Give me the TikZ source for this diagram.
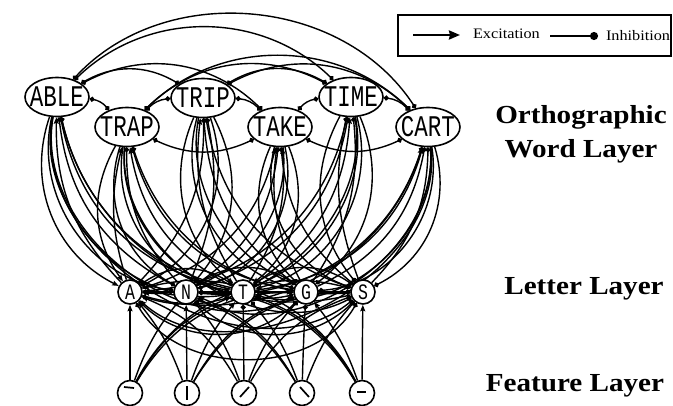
\documentclass[tikz,border=0pt]{standalone}
\usepackage{fontspec}
\setmainfont{Liberation Serif}
\newfontfamily\layerfont[FakeStretch=1.12]{Liberation Serif}
\newfontfamily\unitfont[FakeStretch=0.75]{Liberation Mono}
\usetikzlibrary{arrows.meta,
                shapes.geometric,
                backgrounds}

\begin{document}
\begin{tikzpicture}[
        x=1pt, y=1pt,
        line width=1.4pt,
        word/.style={draw, ellipse, fill=white, line width=1.6pt, minimum width=64pt, minimum height=39pt, inner xsep=-10pt, inner ysep=0pt, font=\unitfont\fontsize{30}{30}\selectfont},
        letter/.style={draw, circle, fill=white, line width=1.6pt, minimum size=24pt, inner sep=0pt, font=\unitfont\fontsize{22}{22}\selectfont},
        feature/.style={draw, circle, fill=white, line width=1.6pt, minimum size=25pt, inner sep=0pt},
        excite/.style={line width=1.4pt, -{Stealth[length=6.5pt, width=5pt, inset=1pt]}},
        inhibit/.style={line width=1.4pt, -{Circle[length=5pt]}},
        mutual/.style={line width=1.4pt, {Circle[length=5pt]}-{Circle[length=5pt]}},
        layer/.style={font=\layerfont\bfseries\fontsize{26}{34}\selectfont, align=center},
        legend/.style={font=\layerfont\fontsize{14.5}{14.5}\selectfont, anchor=base west}
        ]
        \useasboundingbox (0,0) rectangle (673,-406);

        % Nodes
        \node[word] (able) at (57,-97) {ABLE};
        \node[word] (trap) at (127,-127) {TRAP};
        \node[word] (trip) at (203,-98) {TRIP};
        \node[word] (take) at (280,-127) {TAKE};
        \node[word] (time) at (351,-97) {TIME};
        \node[word] (cart) at (428,-127) {CART};

        \node[letter] (a) at (130,-292) {A};
        \node[letter] (n) at (186,-292) {N};
        \node[letter] (t) at (243,-292) {T};
        \node[letter] (g) at (306,-292) {G};
        \node[letter] (s) at (363,-292) {S};

        \node[feature] (f1) at (130,-393) {};
        \node[feature] (f2) at (187,-393) {};
        \node[feature] (f3) at (244,-393) {};
        \node[feature] (f4) at (302,-393) {};
        \node[feature] (f5) at (362,-393) {};

        % feature strokes
        \draw[line width=1.7pt] ([shift={(-6,6)}]f1.center) -- ([shift={(4,5)}]f1.center);
        \draw[line width=1.7pt] ([shift={(0,7)}]f2.center) -- ([shift={(0,-7)}]f2.center);
        \draw[line width=1.7pt] ([shift={(-4,-4)}]f3.center) -- ([shift={(5,6)}]f3.center);
        \draw[line width=1.7pt] ([shift={(-2,6)}]f4.center) -- ([shift={(7,-4)}]f4.center);
        \draw[line width=1.7pt] ([shift={(-5,1)}]f5.center) -- ([shift={(4,1)}]f5.center);

        \node[layer] (wordlayer) at (581,-134) {Orthographic\\Word Layer};
        \node[layer, anchor=base] (letterlayer) at (584,-295) {Letter Layer};
        \node[layer, anchor=base] (featurelayer) at (575,-392) {Feature Layer};

        % Legend
        \draw[line width=1.2pt] (398,-15) rectangle (671,-56);
        \coordinate (exfrom) at (413,-35);
        \coordinate (exto) at (460,-35);
        \coordinate (infrom) at (550,-36);
        \coordinate (into) at (598,-36);
        \draw[-{Stealth[length=11pt, width=9pt, inset=1pt]}, line width=2.4pt] (exfrom) -- (exto);
        \draw[-{Circle[length=8pt]}, line width=2.4pt] (infrom) -- (into);
        \node[legend] (extext) at (469,-39) {Excitation};
        \node[legend] (intext) at (602,-41) {Inhibition};

        % Arrows
        \begin{pgfonlayer}{background}
        % letters <-> words
        \foreach \w/\wx/\code in {able/57/10000, trap/127/10100, trip/203/100, take/280/10100, time/351/100, cart/428/10100}{
          \foreach \l/\lx/\j in {a/130/0, n/186/1, t/243/2, g/306/3, s/363/4}{
            \pgfmathtruncatemacro\hit{mod(floor(\code/10^(4-\j)),10)}
            \pgfmathsetmacro\side{\lx>=\wx ? 1 : -1}
            \pgfmathsetmacro\bendup{\side*(15+abs(\lx-\wx)/10)}
            \pgfmathsetmacro\benddown{-\side*(32+abs(\lx-\wx)/8)}
            \ifnum\hit=1 \def\kind{excite}\else\def\kind{inhibit}\fi
            \draw[\kind] (\l) to[bend left=\bendup] (\w);
            \draw[\kind] (\w) to[bend left=\benddown] (\l);
          }
        }
        % features -> letters
        \foreach \f/\fx/\code in {f1/130/10111, f2/187/11110, f3/244/10000, f4/302/1000, f5/362/10011}{
          \foreach \l/\lx/\j in {a/130/0, n/186/1, t/243/2, g/306/3, s/363/4}{
            \pgfmathtruncatemacro\hit{mod(floor(\code/10^(4-\j)),10)}
            \pgfmathsetmacro\bendup{(\lx-\fx)/6}
            \ifnum\hit=1 \def\kind{excite}\else\def\kind{inhibit}\fi
            \draw[\kind] (\f) to[bend left=\bendup] (\l);
          }
        }
        % letter competition
        \draw[mutual] (a) -- (n);
        \draw[mutual] (n) -- (t);
        \draw[mutual] (t) -- (g);
        \draw[mutual] (g) -- (s);
        \draw[mutual] (a) to[bend left=35] (t);
        \draw[mutual] (n) to[bend left=35] (g);
        \draw[mutual] (t) to[bend left=35] (s);
        \draw[mutual] (a) to[bend right=45] (g);
        \draw[mutual] (n) to[bend right=45] (s);
        \draw[mutual] (a) to[bend right=60] (s);
        % word competition
        \foreach \u/\v/\b in {able/trap/20, able/trip/30, able/take/36, able/time/44, able/cart/52,
                              trap/trip/20, trap/time/36, trap/cart/44,
                              trip/take/20, trip/time/30, trip/cart/36,
                              take/time/20, time/cart/20}{
          \draw[mutual] (\u) to[bend left=\b] (\v);
        }
        \draw[mutual] (trap) to[bend right=25] (take);
        \draw[mutual] (take) to[bend right=25] (cart);
        \end{pgfonlayer}

\end{tikzpicture}
\end{document}
